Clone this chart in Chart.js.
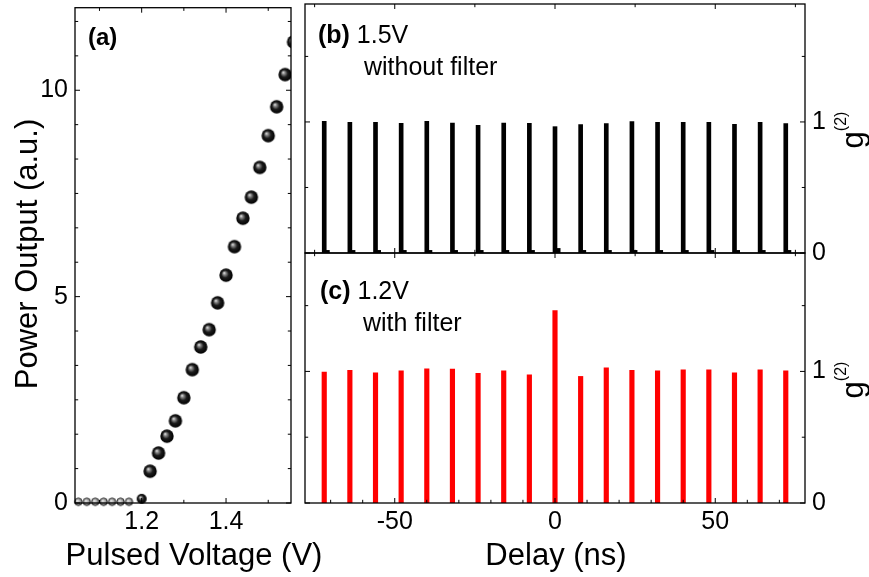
<!DOCTYPE html>
<html>
<head>
<meta charset="utf-8">
<script src="https://cdn.jsdelivr.net/npm/chart.js@4.4.1/dist/chart.umd.min.js"></script>
<style>
  html, body { margin: 0; padding: 0; background: #fff; }
  #wrap { position: relative; width: 869px; height: 577px; }
  #wrap canvas { position: absolute; left: 0; top: 0; }
</style>
</head>
<body>
<div id="wrap">
  <canvas id="ga" width="869" height="577"></canvas>
  <canvas id="gb" width="869" height="577"></canvas>
  <canvas id="gc" width="869" height="577"></canvas>
</div>
<script>
// (a) power output vs pulsed voltage
var voltage = [1.05, 1.07, 1.09, 1.11, 1.13, 1.15, 1.17, 1.20, 1.22, 1.24, 1.26, 1.28, 1.30,
               1.32, 1.34, 1.36, 1.38, 1.40, 1.42, 1.44, 1.46, 1.48, 1.50, 1.52, 1.54, 1.56];
var power = [0.03, 0.03, 0.03, 0.03, 0.03, 0.03, 0.03, 0.10, 0.77, 1.21, 1.62, 1.99, 2.55,
             3.23, 3.78, 4.20, 4.85, 5.52, 6.21, 6.90, 7.41, 8.13, 8.90, 9.60, 10.38, 11.17];

// (b) and (c) g2 histograms
var delay = [-72, -64, -56, -48, -40, -32, -24, -16, -8, 0, 8, 16, 24, 32, 40, 48, 56, 64, 72];
var g2NoFilter = [1.005, 0.997, 0.997, 0.990, 1.005, 0.992, 0.974, 0.992, 0.990, 0.964,
                  0.979, 0.987, 1.003, 0.997, 0.997, 0.997, 0.982, 0.997, 0.987];
var g2Filter = [0.995, 1.008, 0.990, 1.005, 1.020, 1.018, 0.985, 1.005, 0.974, 1.462,
                0.962, 1.028, 1.008, 1.005, 1.013, 1.013, 0.990, 1.013, 1.005];
// small shoulder right after each peak in (b)
var sideDelay = [-70.9, -62.9, -54.9, -46.9, -38.9, -30.9, -22.9, -14.9, -6.9, 1.1,
                 9.1, 17.1, 25.1, 33.1, 41.1, 49.1, 57.1, 65.1, 73.1];
var sideNoFilter = [0.02, 0.02, 0.02, 0.02, 0.02, 0.02, 0.02, 0.02, 0.02, 0.035,
                    0.02, 0.02, 0.02, 0.02, 0.02, 0.02, 0.02, 0.02, 0.02];

// tick labels
var powerTicks = [0, 5, 10];
var voltTicks = [1.2, 1.4];
var delayTicks = [-50, 0, 50];
var g2Ticks = [0, 1];

var FONT = "'Liberation Sans', Arial, sans-serif";
Chart.defaults.font.family = FONT;
Chart.defaults.color = '#000';

function sphere(r) {
  var c = document.createElement('canvas');
  var s = Math.ceil(r * 2) + 2;
  c.width = c.height = s;
  var g = c.getContext('2d'), m = s / 2;
  var grd = g.createRadialGradient(m - r * 0.3, m - r * 0.35, 0, m, m, r);
  grd.addColorStop(0, '#f4f4f4');
  grd.addColorStop(0.22, '#8c8c8c');
  grd.addColorStop(0.55, '#1c1c1c');
  grd.addColorStop(1, '#000');
  g.fillStyle = grd;
  g.beginPath(); g.arc(m, m, r, 0, Math.PI * 2); g.fill();
  return c;
}
// the tiny ones near zero look grey with a dark rim
function bead(r) {
  var c = document.createElement('canvas');
  var s = Math.ceil(r * 2) + 2;
  c.width = c.height = s;
  var g = c.getContext('2d'), m = s / 2;
  var grd = g.createRadialGradient(m - r * 0.25, m - r * 0.3, 0, m, m, r);
  grd.addColorStop(0, '#f0f0f0');
  grd.addColorStop(0.6, '#a0a0a0');
  grd.addColorStop(1, '#555');
  g.fillStyle = grd;
  g.beginPath(); g.arc(m, m, r - 0.5, 0, Math.PI * 2); g.fill();
  g.strokeStyle = '#222'; g.lineWidth = 1; g.stroke();
  return c;
}
var sprBig = sphere(6.7), sprMid = sphere(5), sprSmall = bead(4.2);

function marks(from, to, step, majors) {
  var out = [];
  for (var v = from; v <= to + 1e-9; v += step) {
    var isMaj = majors.some(function (m) { return Math.abs(m - v) < 1e-6; });
    out.push([v, isMaj ? 5 : 3.2]);
  }
  return out;
}

// inward ticks on all four sides plus the frame
function frameTicks(t) {
  return {
    id: 'frameTicks',
    afterDraw: function (chart) {
      var ctx = chart.ctx, a = chart.chartArea, xs = chart.scales.x, ys = chart.scales.y;
      ctx.save();
      ctx.strokeStyle = '#000';
      ctx.lineWidth = 1;
      ctx.beginPath();
      (t.bottom || []).forEach(function (m) { var p = xs.getPixelForValue(m[0]); ctx.moveTo(p, a.bottom); ctx.lineTo(p, a.bottom - m[1]); });
      (t.top || []).forEach(function (m) { var p = xs.getPixelForValue(m[0]); ctx.moveTo(p, a.top); ctx.lineTo(p, a.top + m[1]); });
      (t.side || []).forEach(function (m) {
        var p = ys.getPixelForValue(m[0]);
        ctx.moveTo(a.left, p); ctx.lineTo(a.left + m[1], p);
        ctx.moveTo(a.right, p); ctx.lineTo(a.right - m[1], p);
      });
      ctx.stroke();
      ctx.lineWidth = 1.3;
      ctx.strokeRect(a.left, a.top, a.right - a.left, a.bottom - a.top);
      ctx.restore();
    }
  };
}

function textRuns(items) {
  return {
    id: 'textRuns',
    afterDraw: function (chart) {
      var ctx = chart.ctx;
      items.forEach(function (it) {
        ctx.save();
        ctx.translate(it.x, it.y);
        if (it.rot) ctx.rotate(it.rot);
        ctx.fillStyle = '#000';
        ctx.textBaseline = it.base || 'alphabetic';
        var ws = [], w = 0;
        it.runs.forEach(function (r) { ctx.font = r.font; var k = ctx.measureText(r.text).width; ws.push(k); w += k; });
        var x = it.center ? -w / 2 : 0;
        it.runs.forEach(function (r, i) { ctx.font = r.font; ctx.fillText(r.text, x, -(r.rise || 0)); x += ws[i]; });
        ctx.restore();
      });
    }
  };
}

var f25 = '25px ' + FONT, b25 = 'bold 25px ' + FONT;
function g2Title(cy) {
  return { x: 863, y: cy, rot: -Math.PI / 2, center: true,
           runs: [{ text: 'g', font: '31px ' + FONT }, { text: '(2)', font: '16px ' + FONT, rise: 17 }] };
}
function setTicks(list) { return function (s) { s.ticks = list.map(function (v) { return { value: v }; }); }; }
function noPad(s) { s.paddingTop = 0; s.paddingBottom = 0; s.paddingLeft = 0; s.paddingRight = 0; }
function fixW(w) { return function (s) { s.width = w; noPad(s); }; }
function fixH(h) { return function (s) { s.height = h; noPad(s); }; }
var tickFont = { size: 25, family: FONT };
var common = {
  responsive: false, animation: false, events: [],
  plugins: { legend: { display: false }, tooltip: { enabled: false } }
};

// (a)
new Chart(document.getElementById('ga'), {
  type: 'scatter',
  data: {
    datasets: [{
      data: voltage.map(function (v, i) { return { x: v, y: power[i] }; }),
      pointStyle: function (c) { var v = c.raw ? c.raw.y : 1; return v < 0.06 ? sprSmall : v < 0.5 ? sprMid : sprBig; },
      pointRadius: function (c) { var v = c.raw ? c.raw.y : 1; return v < 0.06 ? 4.2 : v < 0.5 ? 5 : 6.7; },
      showLine: false,
      clip: { left: 6, top: 0, right: 0, bottom: 8 }
    }]
  },
  options: Object.assign({}, common, {
    layout: { padding: { left: 0, top: 4, right: 578, bottom: 0 } },
    scales: {
      x: { type: 'linear', min: 1.042, max: 1.554, grid: { display: false, drawTicks: false }, border: { display: false },
           afterBuildTicks: setTicks(voltTicks), afterFit: fixH(74),
           ticks: { font: tickFont, padding: 4, autoSkip: false, maxRotation: 0, callback: function (v) { return v.toFixed(1); } } },
      y: { min: 0, max: 12, grid: { display: false, drawTicks: false }, border: { display: false },
           afterBuildTicks: setTicks(powerTicks), afterFit: fixW(75),
           ticks: { font: tickFont, padding: 7, autoSkip: false, callback: function (v) { return String(v); } } }
    }
  }),
  plugins: [
    frameTicks({ bottom: marks(1.1, 1.5, 0.1, voltTicks), top: marks(1.1, 1.5, 0.1, voltTicks),
                 side: marks(0, 12, 5 / 6, powerTicks) }),
    textRuns([
      { x: 88, y: 45, runs: [{ text: '(a)', font: 'bold 24px ' + FONT }] },
      { x: 28, y: 254, rot: -Math.PI / 2, center: true, base: 'middle', runs: [{ text: 'Power Output (a.u.)', font: '31px ' + FONT }] },
      { x: 194, y: 565, center: true, runs: [{ text: 'Pulsed Voltage (V)', font: '31px ' + FONT }] }
    ])
  ]
});

function g2Chart(id, values, color, width, extra, pad, xOpts, ticks, texts) {
  var sets = [{ data: delay.map(function (d, i) { return { x: d, y: values[i] }; }),
                backgroundColor: color, barThickness: width, grouped: false, borderWidth: 0 }];
  if (extra) sets.push(extra);
  return new Chart(document.getElementById(id), {
    type: 'bar',
    data: { datasets: sets },
    options: Object.assign({}, common, {
      layout: { padding: pad },
      scales: {
        x: xOpts,
        y: { position: 'right', min: 0, max: 1.9, grid: { display: false, drawTicks: false }, border: { display: false },
             afterBuildTicks: setTicks(g2Ticks), afterFit: fixW(64),
             ticks: { font: tickFont, padding: 7, autoSkip: false, callback: function (v) { return String(v); } } }
      }
    }),
    plugins: [frameTicks(ticks), textRuns(texts)]
  });
}

// (b)
g2Chart('gb', g2NoFilter, '#000', 4,
  { data: sideDelay.map(function (d, i) { return { x: d, y: sideNoFilter[i] }; }),
    backgroundColor: '#000', barThickness: 3.3, grouped: false, borderWidth: 0 },
  { left: 305, top: 4, right: 0, bottom: 324 },
  { type: 'linear', min: -78, max: 78, offset: false, display: false },
  { bottom: marks(-75, 75, 25, delayTicks), top: marks(-75, 75, 25, delayTicks), side: marks(0, 1.5, 0.5, g2Ticks) },
  [
    { x: 318, y: 43, runs: [{ text: '(b)', font: b25 }, { text: ' 1.5V', font: f25 }] },
    { x: 364, y: 74.5, runs: [{ text: 'without filter', font: f25 }] },
    g2Title(130)
  ]);

// (c)
g2Chart('gc', g2Filter, '#ff0000', 4.5, null,
  { left: 305, top: 253, right: 0, bottom: 0 },
  { type: 'linear', min: -78, max: 78, offset: false, grid: { display: false, drawTicks: false }, border: { display: false },
    afterBuildTicks: setTicks(delayTicks), afterFit: fixH(74),
    ticks: { font: tickFont, padding: 4, autoSkip: false, maxRotation: 0, callback: function (v) { return String(v); } } },
  { bottom: marks(-70, 70, 10, delayTicks), top: marks(-75, 75, 25, delayTicks), side: marks(0, 1.5, 0.5, g2Ticks) },
  [
    { x: 320, y: 299, runs: [{ text: '(c)', font: b25 }, { text: ' 1.2V', font: f25 }] },
    { x: 363, y: 331, runs: [{ text: 'with filter', font: f25 }] },
    g2Title(380),
    { x: 556, y: 565, center: true, runs: [{ text: 'Delay (ns)', font: '31px ' + FONT }] }
  ]);
</script>
</body>
</html>
